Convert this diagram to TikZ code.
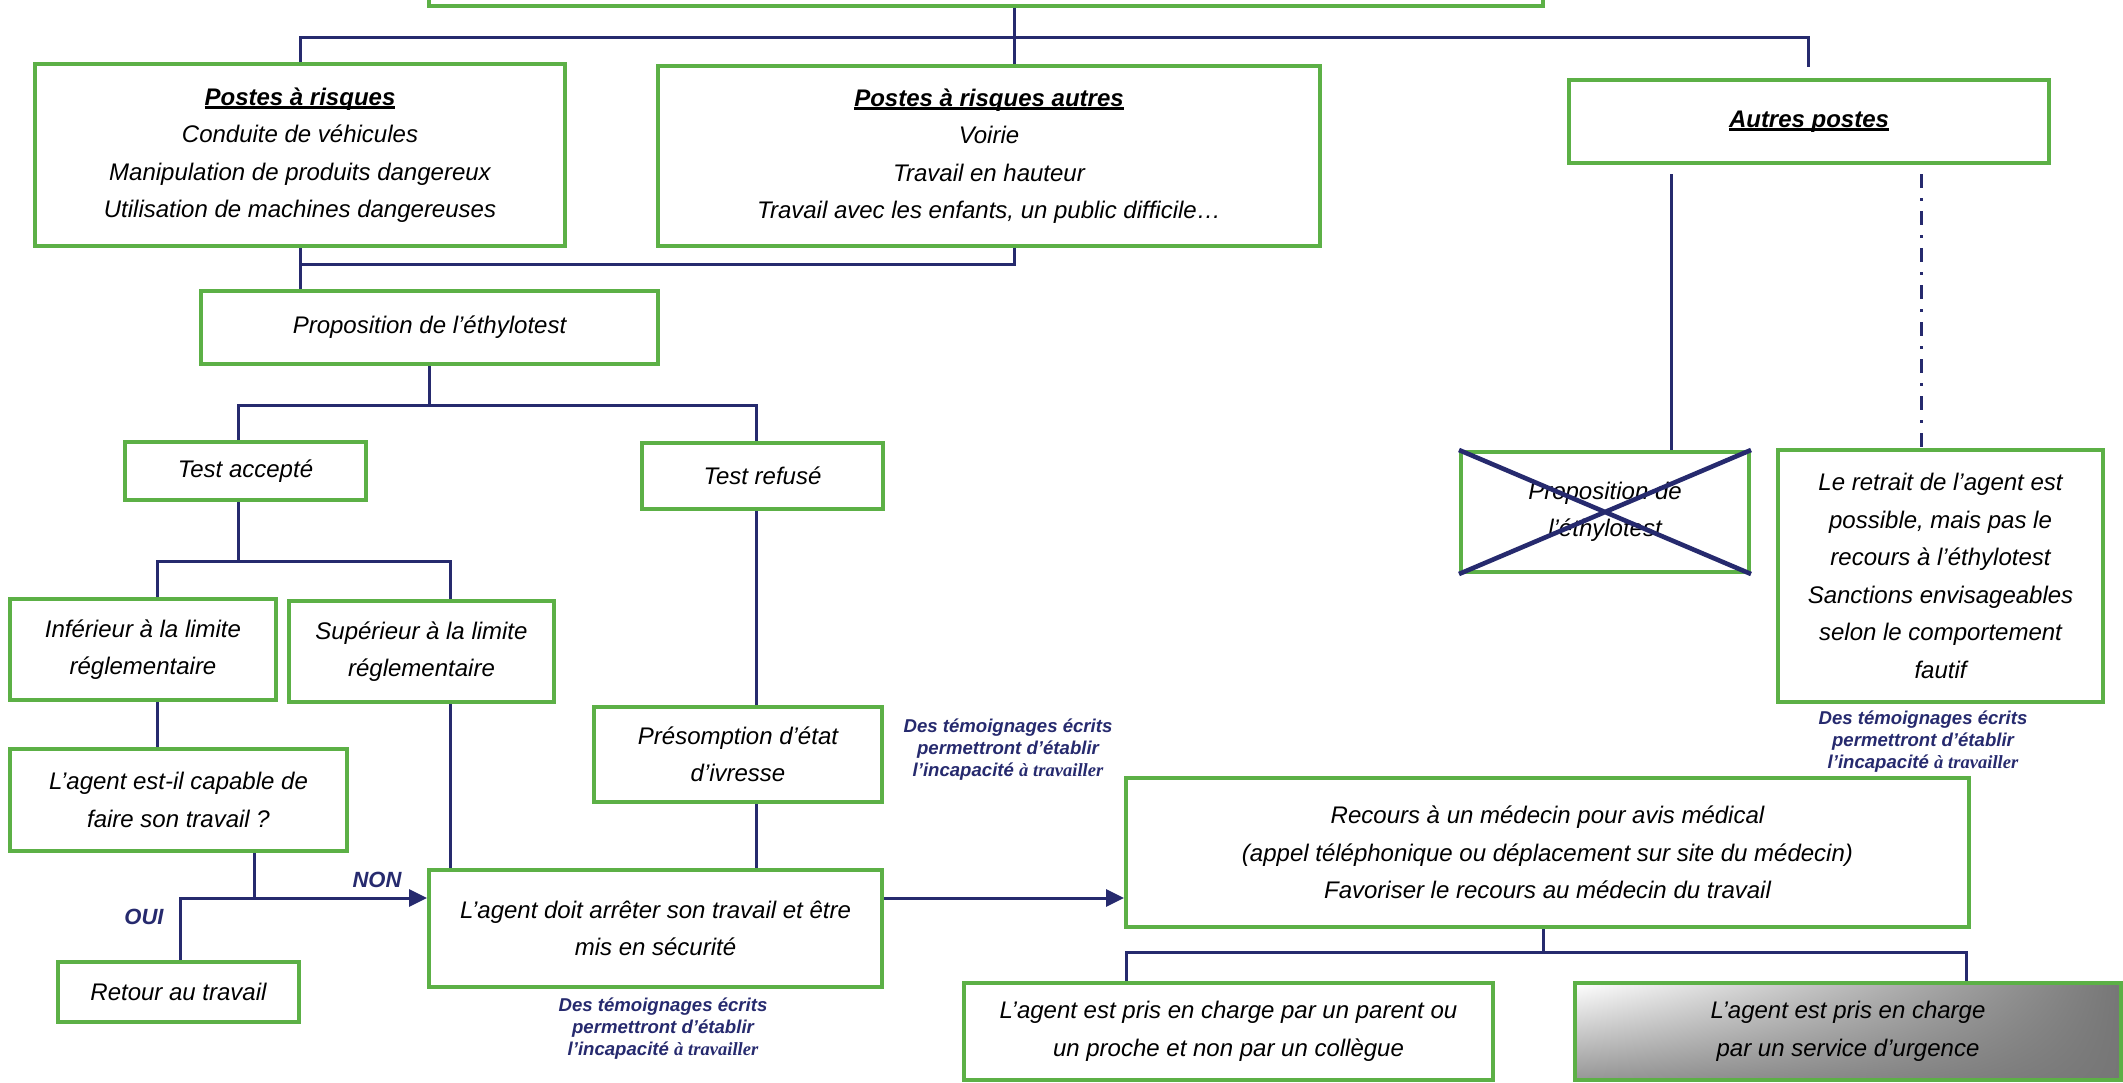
\documentclass[tikz,border=0pt]{standalone}
\usepackage{fontspec}
\setmainfont{Liberation Sans}
\newfontfamily\timesit{Liberation Serif}
\usetikzlibrary{arrows.meta,shadings}
\definecolor{vert}{RGB}{92,176,70}
\definecolor{marine}{RGB}{38,42,110}
\definecolor{grisclair}{RGB}{150,150,150}
\definecolor{grisfonce}{RGB}{118,118,118}
\newcommand{\titre}[1]{\textbf{\setbox0\hbox{#1}\rlap{\rule[-2pt]{\wd0}{1.5pt}}\box0}}
\newcommand{\temoignage}{Des témoignages écrits\\permettront d’établir\\l’incapacité {\timesit à travailler}}
\begin{document}
\begin{tikzpicture}[x=0.5pt,y=-0.5pt,
	etape/.style={draw=vert,line width=2pt,fill=white,inner sep=2pt,align=center,font=\fontsize{12}{18.75}\selectfont\itshape},
	liaison/.style={draw=marine,line width=1.5pt},
	fleche/.style={liaison,-{Triangle[length=9pt,width=8.5pt]}},
	temoin/.style={align=center,text=marine,font=\fontsize{9.3}{11}\selectfont\bfseries\itshape},
	reponse/.style={text=marine,font=\fontsize{11}{13}\selectfont\bfseries\itshape}]
	\clip (0,0) rectangle (2123,1082);
	\path
	(1014,37) coordinate (j0)
	(1808,67) coordinate (j1)
	(1014,264) coordinate (j2)
	(238,405) coordinate (j3)
	(756,405) coordinate (j4)
	(157,561) coordinate (j5)
	(450,561) coordinate (j6)
	(254,898) coordinate (j7)
	(180,898) coordinate (j8)
	(1543,952) coordinate (j9)
	(1126,952) coordinate (j10)
	(1966,952) coordinate (j11)
	(1671,174) coordinate (j12)
	(1921,174) coordinate (j13);
	% boites
	\node[etape,minimum width=557pt,minimum height=46pt] (top) at (986,-40) {};
	\node[etape,minimum width=265pt,minimum height=91pt] (risk) at (300,155) {\titre{Postes à risques}\\Conduite de véhicules\\Manipulation de produits dangereux\\Utilisation de machines dangereuses};
	\node[etape,minimum width=331pt,minimum height=90pt] (riskother) at (989,156) {\titre{Postes à risques autres}\\Voirie\\Travail en hauteur\\Travail avec les enfants, un public difficile…};
	\node[etape,minimum width=240pt,minimum height=41.5pt] (autres) at (1809,121.5) {\titre{Autres postes}};
	\node[etape,minimum width=228.5pt,minimum height=36.5pt] (prop) at (429.5,327.5) {Proposition de l’éthylotest};
	\node[etape,minimum width=120.5pt,minimum height=29pt] (accept) at (245.5,471) {Test accepté};
	\node[etape,minimum width=120.5pt,minimum height=33pt] (refuse) at (762.5,476) {Test refusé};
	\node[etape,minimum width=133pt,minimum height=50.5pt] (inf) at (143,649.5) {Inférieur à la limite\\réglementaire};
	\node[etape,minimum width=132.5pt,minimum height=50.5pt] (sup) at (421.5,651.5) {Supérieur à la limite\\réglementaire};
	\node[etape,minimum width=144pt,minimum height=47.5pt] (presom) at (738,754.5) {Présomption d’état\\d’ivresse};
	\node[etape,minimum width=168.5pt,minimum height=51pt] (capable) at (178.5,800) {L’agent est-il capable de\\faire son travail ?};
	\node[etape,minimum width=120.5pt,minimum height=30pt] (retour) at (178.5,992) {Retour au travail};
	\node[etape,minimum width=226.5pt,minimum height=58.5pt] (arret) at (655.5,928.5) {L’agent doit arrêter son travail et être\\mis en sécurité};
	\node[etape,minimum width=421.5pt,minimum height=74.5pt] (recours) at (1547.5,852.5) {Recours à un médecin pour avis médical\\(appel téléphonique ou déplacement sur site du médecin)\\Favoriser le recours au médecin du travail};
	\node[etape,minimum width=264.5pt,minimum height=48.5pt] (parent) at (1228.5,1031.5) {L’agent est pris en charge par un parent ou\\un proche et non par un collègue};
	\node[etape,shading=bilinear interpolation,upper left=white,lower left=grisclair,upper right=grisfonce,lower right=grisfonce,minimum width=273pt,minimum height=48.5pt] (urgence) at (1848,1031.5) {L’agent est pris en charge\\par un service d’urgence};
	\node[etape,minimum width=144pt,minimum height=60pt] (cross) at (1605,512) {Proposition de\\l’éthylotest};
	\node[etape,minimum width=162.5pt,minimum height=126pt] (retrait) at (1940.5,576) {Le retrait de l’agent est\\possible, mais pas le\\recours à l’éthylotest\\Sanctions envisageables\\selon le comportement\\fautif};
	% textes
	\node[reponse] (non) at (377,880) {NON};
	\node[reponse] (oui) at (144,917) {OUI};
	\node[temoin] (t1) at (663,1029) {\temoignage};
	\node[temoin] (t2) at (1008,750) {\temoignage};
	\node[temoin] (t3) at (1923,742) {\temoignage};
	% liaisons
	\draw[liaison] (top.south -| j0) -- (riskother.north -| j0);
	\draw[liaison] (risk.north) |- (j0) -| (j1);
	\draw[liaison] (riskother.south -| j2) -- (j2) -| (risk.south) -- (risk.south |- prop.north);
	\draw[liaison] (prop.south) -- (prop.south |- j3);
	\draw[liaison] (j3 |- accept.north) -- (j3) -- (j4) -- (j4 |- refuse.north);
	\draw[liaison] (accept.south -| j3) -- (j3 |- j5);
	\draw[liaison] (j5 |- inf.north) -- (j5) -- (j6) -- (j6 |- sup.north);
	\draw[liaison] (refuse.south -| j4) -- (presom.north -| j4);
	\draw[liaison] (presom.south -| j4) -- (arret.north -| j4);
	\draw[liaison] (sup.south -| j6) -- (arret.north -| j6);
	\draw[liaison] (inf.south -| j5) -- (capable.north -| j5);
	\draw[liaison] (capable.south -| j7) -- (j7);
	\draw[fleche] (retour.north -| j8) -- (j8) -- (j8 -| arret.west);
	\draw[fleche] (arret.east |- j8) -- (recours.west |- j8);
	\draw[liaison] (recours.south -| j9) -- (j9);
	\draw[liaison] (parent.north -| j10) -- (j10) -- (j11) -- (urgence.north -| j11);
	\draw[liaison] (j12) -- (j12 |- cross.north);
	\draw[liaison,dash pattern=on 7pt off 5pt on 1.5pt off 5pt] (j13) -- (j13 |- retrait.north);
	\draw[liaison,line width=2.3pt] (cross.north west) -- (cross.south east) (cross.south west) -- (cross.north east);
\end{tikzpicture}
\end{document}
